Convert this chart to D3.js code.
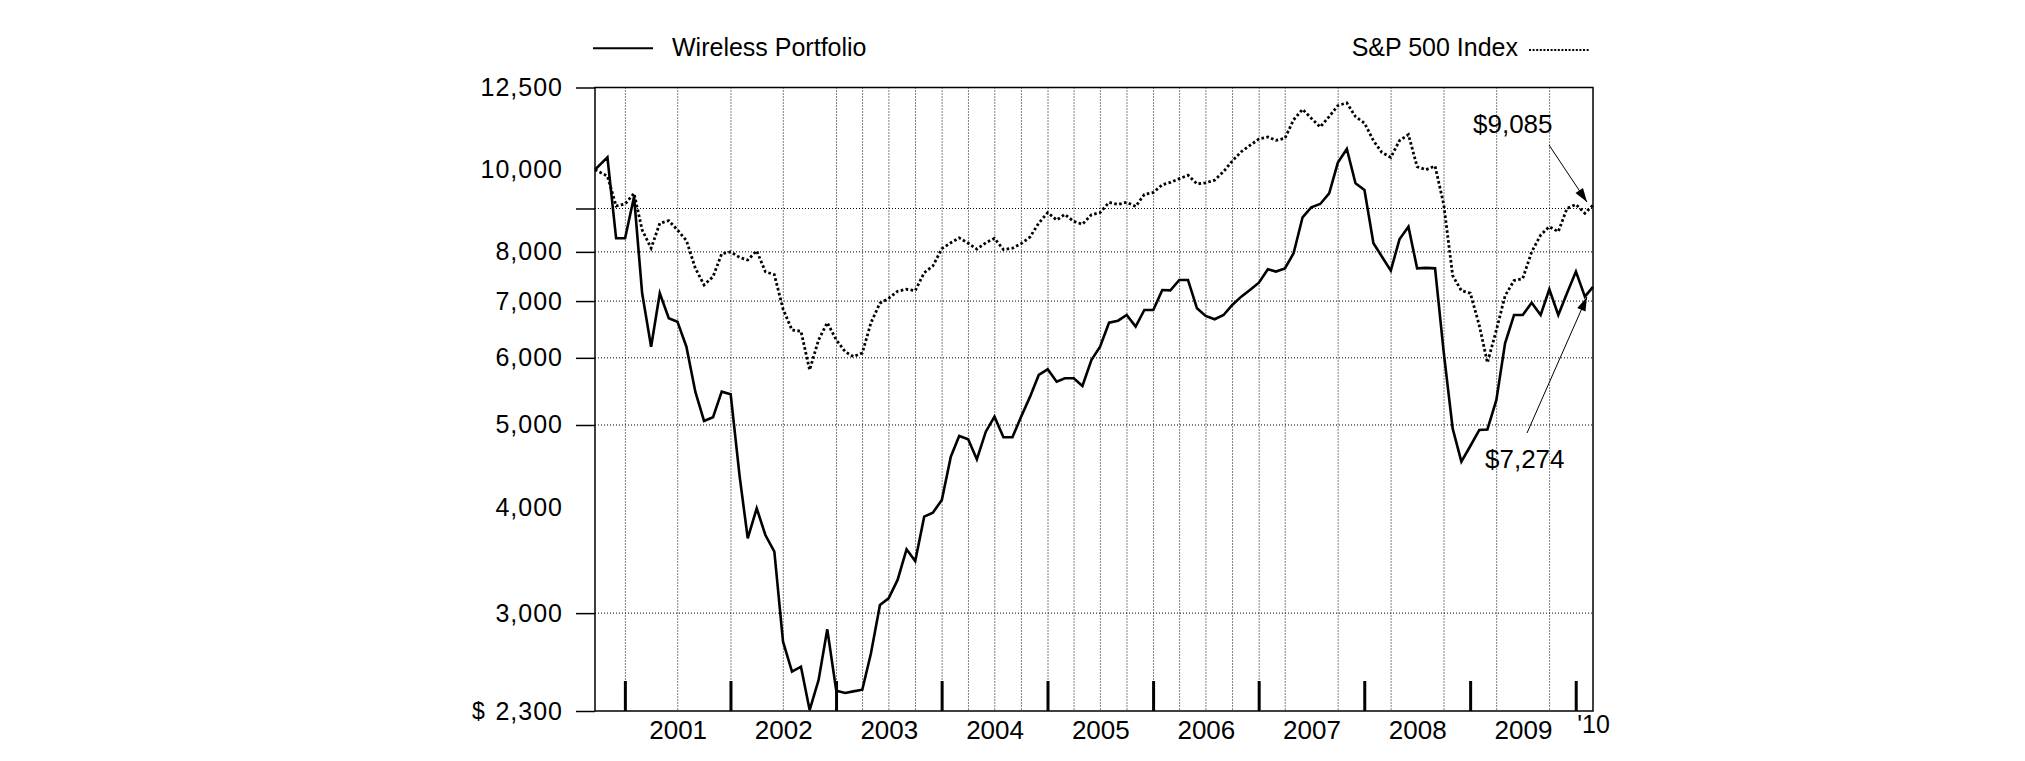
<!DOCTYPE html>
<html>
<head>
<meta charset="utf-8">
<script src="https://cdn.jsdelivr.net/npm/d3@7"></script>
<style>
  body { margin: 0; background: #fff; }
  text { font-family: "Liberation Sans", Arial, Helvetica, sans-serif; fill: #000; }
</style>
</head>
<body>
<svg id="chart" width="2025" height="761"></svg>
<script>
// first point is the start of the period, the rest are month ends Oct 2000 .. Feb 2010
const startDate = "2000-09-18";

const wireless = [
  10000,
  10340, 8300, 8300,                                                    // 2000
  9294, 7149, 6184, 7149, 6680, 6619, 6184, 5470, 5055, 5106, 5473, 5434, // 2001
  4350, 3676, 3988, 3709, 3545, 2776, 2559, 2594, 2306, 2502, 2871, 2430, // 2002
  2415, 2426, 2437, 2690, 3067, 3123, 3283, 3568, 3456, 3898, 3941, 4079, // 2003
  4588, 4853, 4810, 4555, 4910, 5114, 4836, 4836, 5114, 5400, 5727, 5816, // 2004
  5624, 5676, 5676, 5558, 5965, 6184, 6601, 6637, 6740, 6530, 6833, 6833, // 2005
  7214, 7207, 7412, 7412, 6864, 6722, 6662, 6740, 6926, 7084, 7214, 7358, // 2006
  7631, 7584, 7650, 7970, 8788, 9029, 9111, 9379, 10193, 10579, 9638, 9464, // 2007
  8189, 7900, 7602, 8278, 8567, 7650, 7660, 7650, 6090, 4950, 4526, 4723, // 2008
  4933, 4940, 5351, 6242, 6740, 6740, 6969, 6740, 7228, 6740, 7150, 7584, // 2009
  7084, 7274                                                            // 2010
];

const sp500 = [
  10000,
  9830, 9061, 9111,
  9379, 8491, 8080, 8646, 8707, 8491, 8250, 7650, 7313, 7479, 7960, 8000,
  7880, 7826, 8023, 7580, 7520, 6850, 6470, 6450, 5806, 6300, 6601, 6300,
  6100, 6020, 6080, 6600, 6960, 7050, 7190, 7228, 7200, 7560, 7700, 8070,
  8200, 8310, 8190, 8060, 8200, 8300, 8050, 8080, 8180, 8330, 8650, 8900,
  8723, 8856, 8690, 8622, 8850, 8900, 9150, 9100, 9153, 9050, 9350, 9400,
  9600, 9660, 9760, 9850, 9620, 9650, 9720, 9950, 10240, 10500, 10680, 10870,
  10930, 10830, 10891, 11450, 11780, 11500, 11230, 11550, 11900, 11990, 11550, 11350,
  10820, 10480, 10340, 10820, 11000, 10080, 10000, 10100, 9100, 7500, 7200, 7150,
  6550, 5922, 6470, 7100, 7400, 7440, 8000, 8375, 8567, 8450, 9000, 9100,
  8884, 9085
];

const yLabelTicks = [12500, 10000, 8000, 7000, 6000, 5000, 4000, 3000, 2300];
const yLineTicks = [12500, 9000, 8000, 7000, 6000, 5000, 3000, 2300];
const yGridValues = [9000, 8000, 7000, 6000, 5000, 3000];
const yearLabels = ["2001", "2002", "2003", "2004", "2005", "2006", "2007", "2008", "2009"];
const lastYearLabel = "'10";
const gridMonths = [
  "2001-01", "2001-07", "2002-01", "2002-07",
  "2003-01", "2003-04", "2003-07", "2003-10",
  "2004-01", "2004-04", "2004-07", "2004-10",
  "2005-01", "2005-04", "2005-07", "2005-10",
  "2006-01", "2006-04", "2006-07", "2006-10",
  "2007-01", "2007-04", "2007-10",
  "2008-04", "2008-10", "2009-04", "2009-10"
];
const legendLabels = ["Wireless Portfolio", "S&P 500 Index"];

const parseDay = d3.timeParse("%Y-%m-%d");
const parseMonth = d3.timeParse("%Y-%m");

const monthEnds = d3.timeMonth.range(new Date(2000, 9, 1), new Date(2010, 2, 1))
  .map(m => d3.timeDay.offset(d3.timeMonth.offset(m, 1), -1));
const dates = [parseDay(startDate)].concat(monthEnds);

const plotLeft = 595, plotRight = 1593, plotTop = 87.5, plotBottom = 711;

const svg = d3.select("#chart");
svg.append("rect").attr("width", 2025).attr("height", 761).attr("fill", "#fff");

const x = d3.scaleTime().domain([dates[0], dates[dates.length - 1]]).range([plotLeft, plotRight]);
const y = d3.scaleLog().domain([2300, 12500]).range([plotBottom, plotTop]);

// grid
const grid = svg.append("g").attr("stroke", "#000").attr("stroke-width", 1).attr("stroke-dasharray", "1,2");
grid.selectAll("line.h").data(yGridValues).enter().append("line")
  .attr("x1", plotLeft).attr("x2", plotRight)
  .attr("y1", d => y(d)).attr("y2", d => y(d));
grid.selectAll("line.v").data(gridMonths).enter().append("line")
  .attr("x1", d => x(parseMonth(d))).attr("x2", d => x(parseMonth(d)))
  .attr("y1", plotTop).attr("y2", plotBottom);

// y axis tick lines and labels
svg.append("g").attr("transform", `translate(${plotLeft},0)`)
  .call(d3.axisLeft(y).tickValues(yLineTicks).tickSize(19).tickFormat(""))
  .call(g => g.select(".domain").remove())
  .call(g => g.selectAll("line").attr("stroke", "#000").attr("stroke-width", 1.5));

svg.append("g").attr("transform", `translate(${plotLeft},0)`)
  .call(d3.axisLeft(y).tickValues(yLabelTicks).tickSize(0).tickPadding(32).tickFormat(d3.format(",")))
  .call(g => g.select(".domain").remove())
  .call(g => g.selectAll("text")
    .attr("font-family", null).attr("fill", "#000")
    .style("font-size", "25px").style("letter-spacing", "1px"));

svg.append("text").attr("x", 472).attr("y", y(2300) + 8).style("font-size", "23px").text("$");

// year ticks and labels
const yearStarts = d3.range(2001, 2011).map(yr => new Date(yr, 0, 1));
svg.append("g").selectAll("line").data(yearStarts).enter().append("line")
  .attr("x1", d => x(d)).attr("x2", d => x(d))
  .attr("y1", plotBottom - 30).attr("y2", plotBottom)
  .attr("stroke", "#000").attr("stroke-width", 3);

svg.append("g").selectAll("text").data(yearLabels).enter().append("text")
  .attr("x", d => (x(new Date(+d, 0, 1)) + x(new Date(+d + 1, 0, 1))) / 2)
  .attr("y", 739)
  .attr("text-anchor", "middle")
  .style("font-size", "26px")
  .text(d => d);

svg.append("text").attr("x", x(new Date(2010, 0, 1)) + 1).attr("y", 733)
  .style("font-size", "25px").text(lastYearLabel);

// series
const line = d3.line().x((d, i) => x(dates[i])).y(d => y(d));

svg.append("path").datum(sp500)
  .attr("d", line).attr("fill", "none")
  .attr("stroke", "#000").attr("stroke-width", 2.8)
  .attr("stroke-dasharray", "2.6,2.4");

svg.append("path").datum(wireless)
  .attr("d", line).attr("fill", "none")
  .attr("stroke", "#000").attr("stroke-width", 2.6)
  .attr("stroke-linejoin", "miter");

// frame
svg.append("rect").attr("x", plotLeft).attr("y", plotTop)
  .attr("width", plotRight - plotLeft).attr("height", plotBottom - plotTop)
  .attr("fill", "none").attr("stroke", "#000").attr("stroke-width", 1.5);

// legend
svg.append("line").attr("x1", 593).attr("x2", 653).attr("y1", 48.3).attr("y2", 48.3)
  .attr("stroke", "#000").attr("stroke-width", 2);
svg.append("text").attr("x", 672).attr("y", 55.7).style("font-size", "25px").text(legendLabels[0]);
svg.append("text").attr("x", 1518).attr("y", 55.7).attr("text-anchor", "end")
  .style("font-size", "25px").text(legendLabels[1]);
svg.append("line").attr("x1", 1529).attr("x2", 1590).attr("y1", 50).attr("y2", 50)
  .attr("stroke", "#000").attr("stroke-width", 2).attr("stroke-dasharray", "2,1.6");

// end-value callouts
function arrow(x1, y1, x2, y2) {
  svg.append("line").attr("x1", x1).attr("y1", y1).attr("x2", x2).attr("y2", y2)
    .attr("stroke", "#000").attr("stroke-width", 1);
  const a = Math.atan2(y2 - y1, x2 - x1), len = 14, w = 4.5;
  const bx = x2 - len * Math.cos(a), by = y2 - len * Math.sin(a);
  const px = -Math.sin(a) * w, py = Math.cos(a) * w;
  svg.append("path")
    .attr("d", `M${x2},${y2}L${bx + px},${by + py}L${bx - px},${by - py}Z`)
    .attr("fill", "#000");
}

const last = dates.length - 1;
const spEnd = [x(dates[last]), y(sp500[last])];
const wEnd = [x(dates[last]), y(wireless[last])];

svg.append("text").attr("x", 1473).attr("y", 133).style("font-size", "26px")
  .text("$" + d3.format(",")(sp500[last]));
arrow(1549, 145, spEnd[0] - 6, spEnd[1] - 3);

svg.append("text").attr("x", 1485).attr("y", 468).style("font-size", "26px")
  .text("$" + d3.format(",")(wireless[last]));
arrow(1527, 433, wEnd[0] - 6, wEnd[1] + 10);
</script>
</body>
</html>
